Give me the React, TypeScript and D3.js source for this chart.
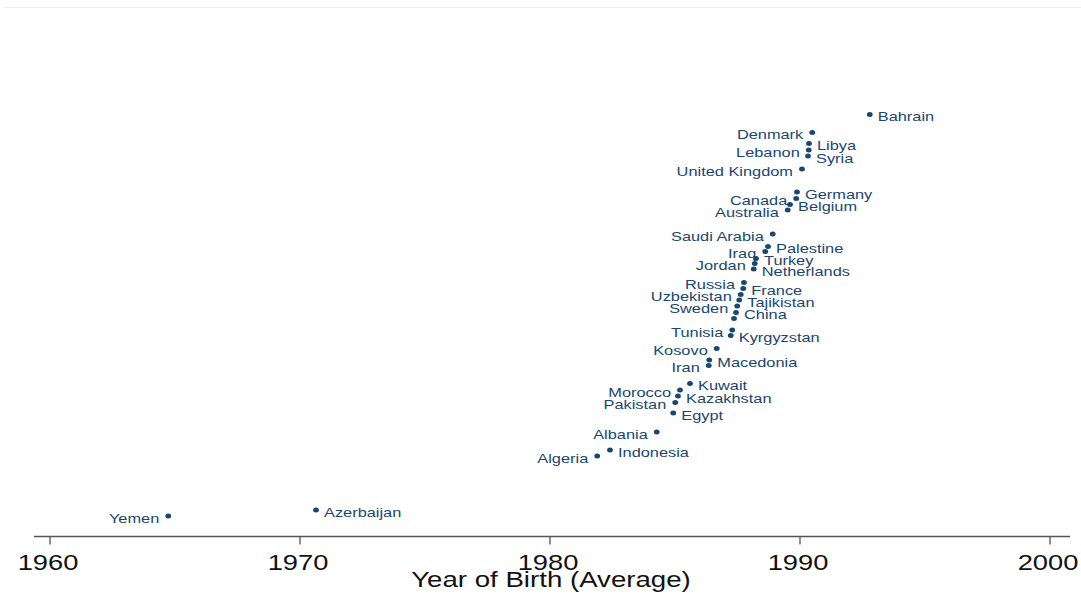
import React from "react";
import * as d3 from "d3";

// Data
const countries = [
  "Bahrain", "Denmark", "Libya", "Lebanon", "Syria", "United Kingdom",
  "Germany", "Canada", "Belgium", "Australia", "Saudi Arabia", "Palestine",
  "Iraq", "Turkey", "Jordan", "Netherlands", "Russia", "France",
  "Uzbekistan", "Tajikistan", "Sweden", "China", "", "Tunisia",
  "Kyrgyzstan", "Kosovo", "Macedonia", "Iran", "Kuwait", "Morocco",
  "Kazakhstan", "Pakistan", "Egypt", "Albania", "Indonesia", "Algeria",
  "Azerbaijan", "Yemen",
];
const birthYears = [
  1992.75, 1990.45, 1990.32, 1990.31, 1990.28, 1990.04,
  1989.84, 1989.81, 1989.56, 1989.47, 1988.87, 1988.68,
  1988.57, 1988.2, 1988.15, 1988.11, 1987.72, 1987.69,
  1987.59, 1987.53, 1987.45, 1987.4, 1987.32, 1987.25,
  1987.19, 1986.63, 1986.33, 1986.31, 1985.56, 1985.16,
  1985.08, 1984.97, 1984.89, 1984.23, 1982.36, 1981.85,
  1970.6, 1964.69,
];
const yValues = [
  84.3, 80.7, 78.5, 77.2, 76.0, 73.4,
  68.8, 67.5, 66.3, 65.2, 60.4, 57.9,
  56.9, 55.5, 54.5, 53.4, 50.7, 49.5,
  48.3, 47.2, 46.0, 44.7, 43.5, 41.2,
  40.1, 37.5, 35.2, 34.1, 30.5, 29.2,
  28.0, 26.7, 24.6, 20.8, 17.2, 16.0,
  5.2, 4.0,
];
const labelSides = [
  "R", "L", "R", "L", "R", "L",
  "R", "L", "R", "L", "L", "R",
  "L", "R", "L", "R", "L", "R",
  "L", "R", "L", "R", "L", "L",
  "R", "L", "R", "L", "R", "L",
  "R", "L", "R", "L", "R", "L",
  "R", "L",
];
const xTicks = [1960, 1970, 1980, 1990, 2000];
const xTitle = "Year of Birth (Average)";

const W = 1081;
const H = 616;
const NAVY = "#1a476f";
const FONT = "'Liberation Sans', Arial, Helvetica, sans-serif";
const SX = 1.24; // horizontal stretch of the reference image

export default function App() {
  const x = d3.scaleLinear().domain([1960, 2000]).range([50, 1050]);
  const y = d3.scaleLinear().domain([0, 100]).range([536, 36]);
  const axisY = 536;

  const pts = countries.map((c, i) => ({
    name: c,
    cx: x(birthYears[i]) + 1,
    cy: y(yValues[i]),
    side: labelSides[i],
  }));

  return (
    <svg
      width={W}
      height={H}
      style={{ position: "fixed", left: 0, top: 0, background: "#fff" }}
    >
      <rect x={0} y={0} width={W} height={H} fill="#fff" />
      <line x1={3} x2={W} y1={7.5} y2={7.5} stroke="#eeeeee" strokeWidth={1} />

      {/* axis */}
      <line x1={34} x2={1070} y1={axisY + 0.5} y2={axisY + 0.5} stroke="#555" strokeWidth={1.3} />
      {xTicks.map((t) => (
        <g key={t}>
          <line x1={x(t)} x2={x(t)} y1={axisY} y2={axisY + 8.5} stroke="#555" strokeWidth={1.3} />
          <text
            transform={`translate(${x(t) - 2},${570}) scale(${SX},1)`}
            textAnchor="middle"
            fontFamily={FONT}
            fontSize={22}
            fill="#111"
          >
            {t}
          </text>
        </g>
      ))}
      <text
        transform={`translate(${x(1980) + 1},${587}) scale(${SX},1)`}
        textAnchor="middle"
        fontFamily={FONT}
        fontSize={22.3}
        fill="#111"
      >
        {xTitle}
      </text>

      {/* points */}
      {pts.map((p, i) => (
        <g key={i}>
          <ellipse cx={p.cx} cy={p.cy} rx={2.9} ry={2.5} fill={NAVY} />
          {p.name && (
            <text
              transform={`translate(${p.side === "R" ? p.cx + 8 : p.cx - 9},${p.cy + 6.5}) scale(${SX},1)`}
              textAnchor={p.side === "R" ? "start" : "end"}
              fontFamily={FONT}
              fontSize={13.2}
              fill={NAVY}
            >
              {p.name}
            </text>
          )}
        </g>
      ))}
    </svg>
  );
}
